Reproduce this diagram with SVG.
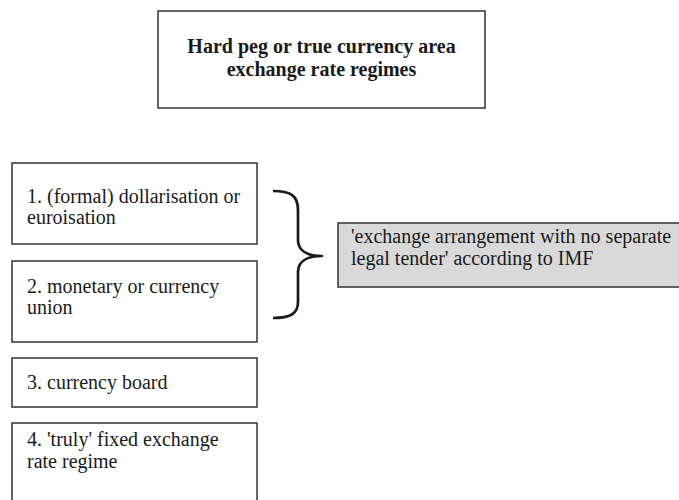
<svg xmlns="http://www.w3.org/2000/svg" width="679" height="500" viewBox="0 0 679 500">
  <style>
    .box { fill: #ffffff; stroke: #333333; stroke-width: 1.5; }
    .shaded { fill: #d9d9d9; stroke: #333333; stroke-width: 1.5; }
    text { font-family: 'Liberation Serif', Tinos, 'Times New Roman', 'DejaVu Serif', serif; fill: #1a1a1a; }
    .label { font-size: 20px; }
    .title { font-size: 20px; font-weight: bold; text-anchor: middle; }
    .brace { fill: none; stroke: #1a1a1a; stroke-width: 2.7; stroke-linecap: butt; stroke-linejoin: round; }
  </style>
  <rect width="679" height="500" fill="#ffffff"/>

  <g id="title-node">
    <rect class="box" x="158" y="11" width="327" height="97"/>
    <text class="title" x="321.5" y="53">Hard peg or true currency area</text>
    <text class="title" x="321.5" y="76">exchange rate regimes</text>
  </g>

  <g id="regime-1">
    <rect class="box" x="12" y="163" width="245" height="81"/>
    <text class="label" x="27" y="203">1. (formal) dollarisation or</text>
    <text class="label" x="27" y="224">euroisation</text>
  </g>

  <g id="regime-2">
    <rect class="box" x="12" y="261" width="245" height="81"/>
    <text class="label" x="27" y="293">2. monetary or currency</text>
    <text class="label" x="27" y="314">union</text>
  </g>

  <g id="regime-3">
    <rect class="box" x="12" y="358" width="245" height="49"/>
    <text class="label" x="27" y="389">3. currency board</text>
  </g>

  <g id="regime-4">
    <rect class="box" x="12" y="423" width="245" height="80"/>
    <text class="label" x="27" y="446">4. 'truly' fixed exchange</text>
    <text class="label" x="27" y="468">rate regime</text>
  </g>

  <g id="imf-node">
    <rect class="shaded" x="338" y="223" width="345" height="64"/>
    <text class="label" x="351" y="243">'exchange arrangement with no separate</text>
    <text class="label" x="351" y="265">legal tender' according to IMF</text>
  </g>

  <g id="connectors">
    <path class="brace" d="M273,191 C290,191 298,195 298,210 L298,240 C298,250 306,256 322,256 C306,256 298,262 298,272 L298,302 C298,314 290,318 273,318"/>
  </g>
</svg>
